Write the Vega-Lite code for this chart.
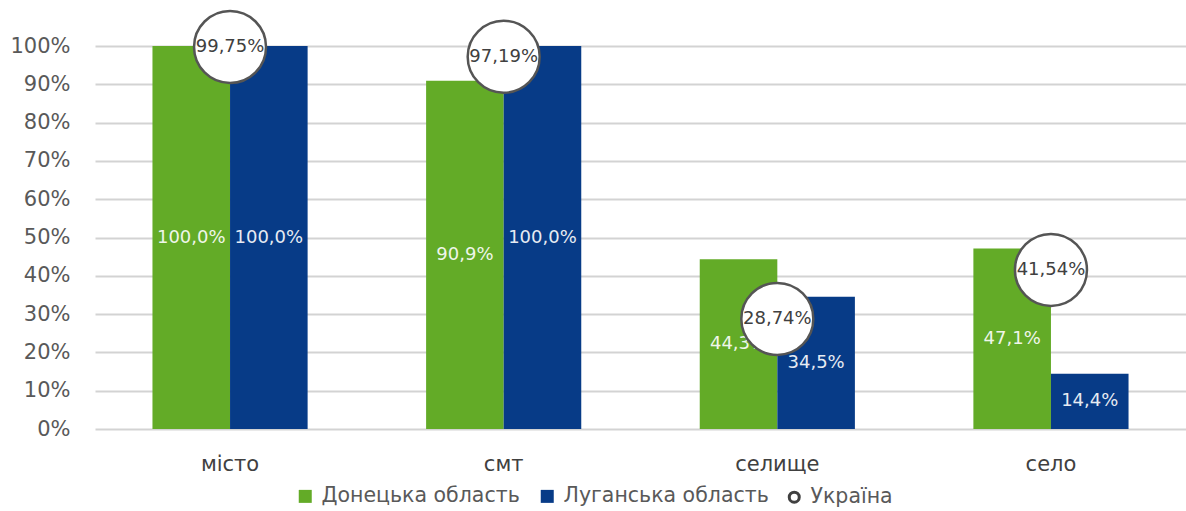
{
  "$schema": "https://vega.github.io/schema/vega-lite/v6.json",
  "autosize": "none",
  "width": 1091,
  "height": 383,
  "padding": {"left": 95, "top": 46, "right": 0, "bottom": 82},
  "background": "#ffffff",
  "config": {
    "locale": {"number": {"decimal": ",", "thousands": " ", "grouping": [3], "currency": ["", " ₴"]}},
    "view": {"stroke": null},
    "font": "DejaVu Sans",
    "axisY": {"tickCount": 10, "format": ".0%", "domain": false, "ticks": false, "tickSize": 0, "labelPadding": 25, "labelFontSize": 21, "labelColor": "#595959", "labelFont": "DejaVu Sans", "gridColor": "#d3d3d3", "gridWidth": 2, "title": null, "labelOverlap": false}
  },
  "data": {
    "values": [
      {"cat": "місто", "series": "Донецька область", "value": 1.0},
      {"cat": "місто", "series": "Луганська область", "value": 1.0},
      {"cat": "місто", "series": "Україна", "value": 0.9975},
      {"cat": "смт", "series": "Донецька область", "value": 0.909},
      {"cat": "смт", "series": "Луганська область", "value": 1.0},
      {"cat": "смт", "series": "Україна", "value": 0.9719},
      {"cat": "селище", "series": "Донецька область", "value": 0.443},
      {"cat": "селище", "series": "Луганська область", "value": 0.345},
      {"cat": "селище", "series": "Україна", "value": 0.2874},
      {"cat": "село", "series": "Донецька область", "value": 0.471},
      {"cat": "село", "series": "Луганська область", "value": 0.144},
      {"cat": "село", "series": "Україна", "value": 0.4154}
    ]
  },
  "encoding": {
    "x": {
      "field": "cat", "type": "nominal", "sort": ["місто", "смт", "селище", "село"],
      "scale": {"paddingInner": 0.433, "paddingOuter": 0.21},
      "axis": {"title": null, "labelAngle": 0, "domain": false, "ticks": false, "labelPadding": 24, "labelFontSize": 21, "labelColor": "#404040", "labelFont": "DejaVu Sans"}
    }
  },
  "layer": [
    {
      "transform": [{"filter": "datum.series !== 'Україна'"}],
      "mark": {"type": "bar"},
      "encoding": {
        "xOffset": {"field": "series", "type": "nominal", "scale": {"domain": ["Донецька область", "Луганська область"], "paddingInner": 0, "paddingOuter": 0}},
        "y": {
          "field": "value", "type": "quantitative",
          "scale": {"domain": [0, 1], "nice": false}
        },
        "color": {
          "field": "series", "type": "nominal",
          "scale": {"domain": ["Донецька область", "Луганська область", "Україна"], "range": ["#63ab27", "#073b87", "#ffffff"]},
          "legend": {
            "orient": "none", "legendX": 200, "legendY": 440, "direction": "horizontal", "title": null,
            "labelFont": "DejaVu Sans", "labelFontSize": 20.5, "labelColor": "#595959", "labelLimit": 400,
            "symbolSize": 169, "symbolType": "square", "columnPadding": 14, "labelOffset": 6,
            "encode": {"symbols": {"update": {
              "shape": {"signal": "datum.value === 'Україна' ? 'circle' : 'square'"},
              "size": {"signal": "datum.value === 'Україна' ? 100 : 169"},
              "stroke": {"signal": "datum.value === 'Україна' ? '#404040' : 'transparent'"},
              "strokeWidth": {"value": 3}
            }}}
          }
        }
      }
    },
    {
      "transform": [{"filter": "datum.series !== 'Україна'"}, {"calculate": "datum.value / 2", "as": "mid"}],
      "mark": {"type": "text", "color": "#ffffff", "fontSize": 18, "font": "DejaVu Sans", "opacity": 0.9},
      "encoding": {
        "xOffset": {"field": "series", "type": "nominal", "scale": {"domain": ["Донецька область", "Луганська область"], "paddingInner": 0, "paddingOuter": 0}},
        "y": {"field": "mid", "type": "quantitative"},
        "text": {"field": "value", "type": "quantitative", "format": ".1%"}
      }
    },
    {
      "transform": [{"filter": "datum.series === 'Україна'"}],
      "mark": {"type": "point", "shape": "circle", "filled": true, "fill": "#ffffff", "stroke": "#555555", "strokeWidth": 2.5, "size": 5184, "opacity": 1, "clip": false},
      "encoding": {
        "y": {"field": "value", "type": "quantitative"}
      }
    },
    {
      "transform": [{"filter": "datum.series === 'Україна'"}],
      "mark": {"type": "text", "color": "#404040", "fontSize": 18, "font": "DejaVu Sans"},
      "encoding": {
        "y": {"field": "value", "type": "quantitative"},
        "text": {"field": "value", "type": "quantitative", "format": ".2%"}
      }
    }
  ]
}
